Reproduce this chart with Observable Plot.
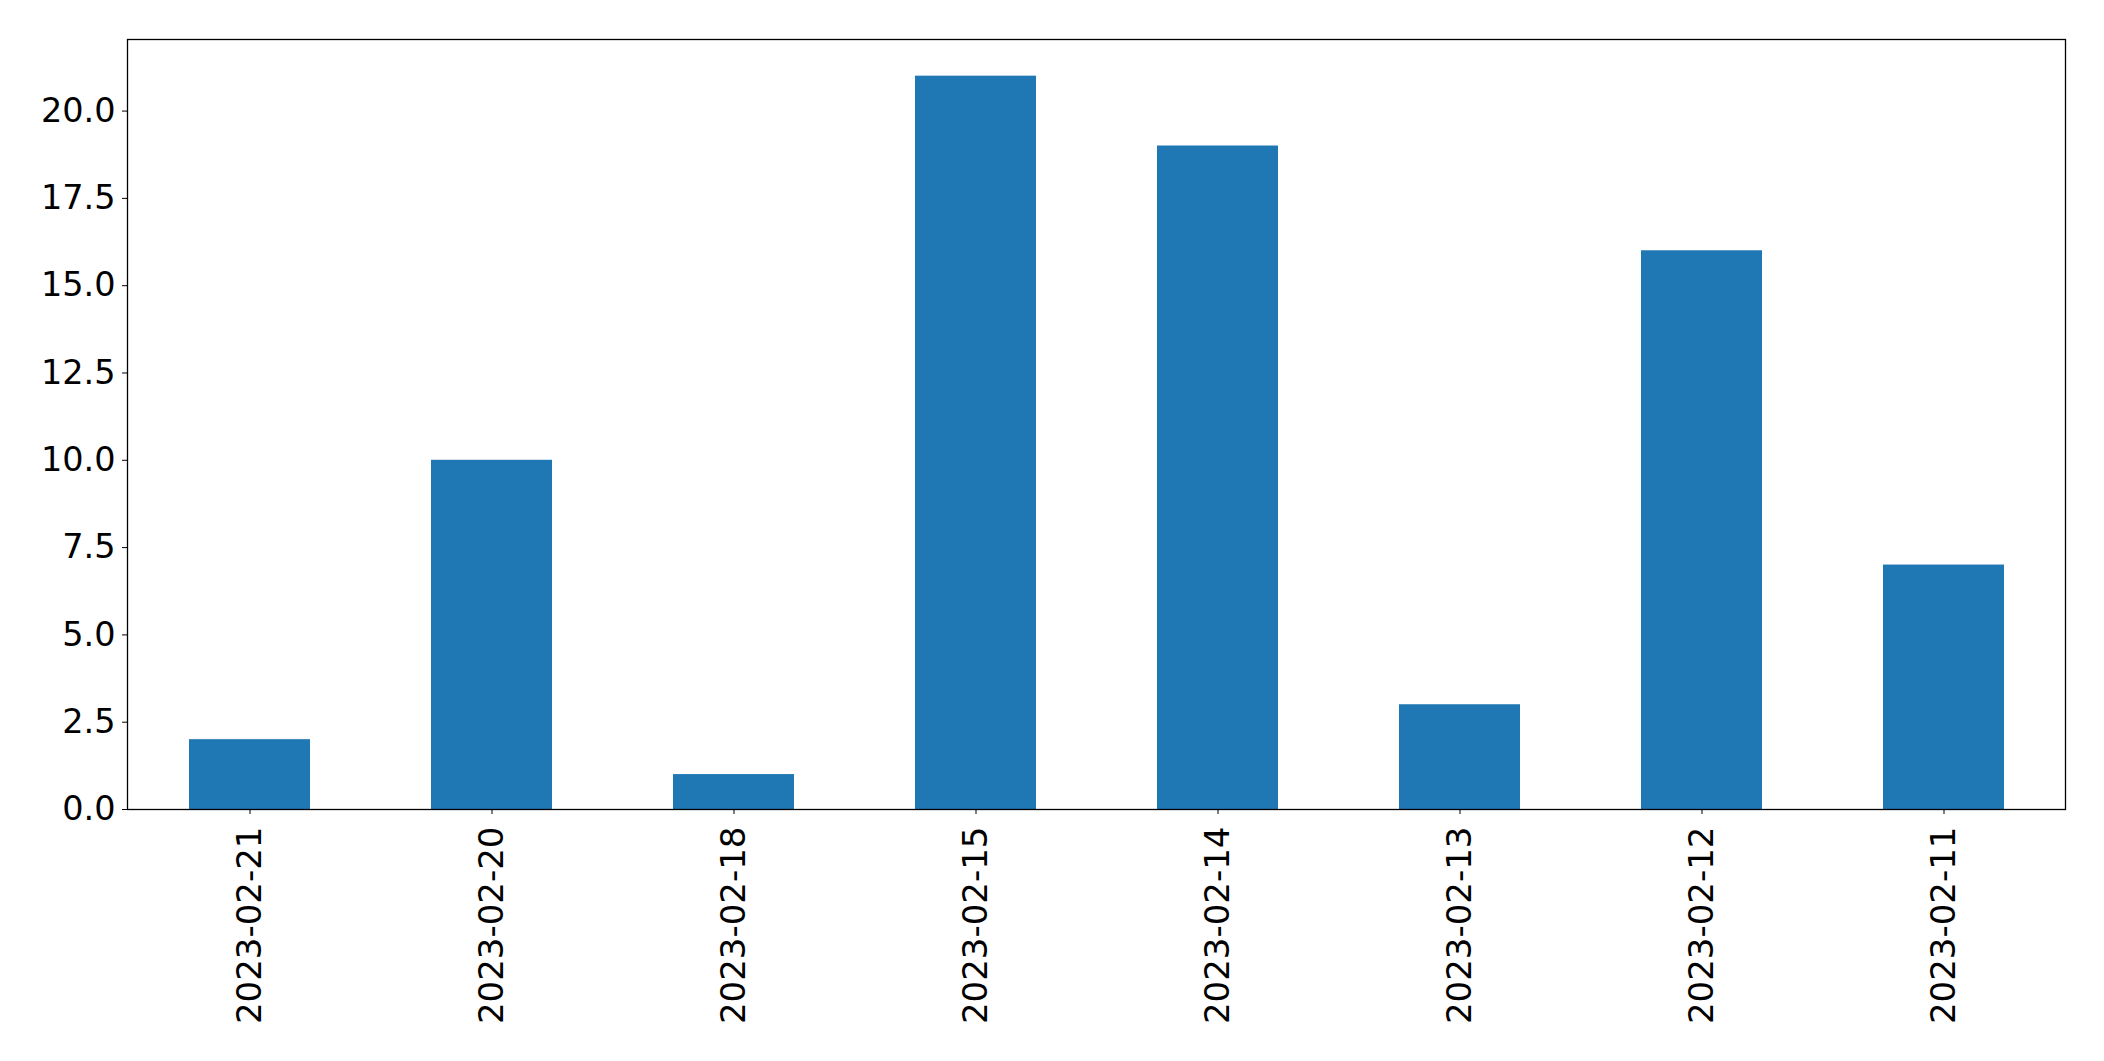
<!DOCTYPE html>
<html>
<head>
<meta charset="utf-8">
<script src="https://cdn.jsdelivr.net/npm/d3@7"></script>
<script src="https://cdn.jsdelivr.net/npm/@observablehq/plot@0.6"></script>
<style>
  html, body { margin: 0; padding: 0; background: #fff; }
  #chart svg { display: block; }
</style>
</head>
<body>
<div id="chart"></div>
<script>
const dates = ["2023-02-21", "2023-02-20", "2023-02-18", "2023-02-15", "2023-02-14", "2023-02-13", "2023-02-12", "2023-02-11"];
const counts = [2, 10, 1, 21, 19, 3, 16, 7];
const yTicks = [0, 2.5, 5, 7.5, 10, 12.5, 15, 17.5, 20];

const data = dates.map((d, i) => ({date: d, count: counts[i]}));

const chart = Plot.plot({
  width: 2104,
  height: 1061,
  marginLeft: 127,
  marginRight: 39,
  marginTop: 39,
  marginBottom: 252,
  style: {fontFamily: "'DejaVu Sans', sans-serif", fontSize: "33px", color: "black", background: "white"},
  x: {domain: dates, paddingInner: 0.5, paddingOuter: 0.25, align: 0.5, label: null},
  y: {domain: [0, 22.05], label: null},
  marks: [
    Plot.barY(data, {x: "date", y: "count", fill: "#1f77b4"}),
    Plot.axisY({ticks: yTicks, tickFormat: d3.format(".1f"), tickSize: 5, tickPadding: 7, fontSize: 33.5, label: null, stroke: "black"}),
    Plot.axisX({tickRotate: -90, tickSize: 5, tickPadding: 12, fontSize: 34, label: null, stroke: "black"}),
    Plot.frame({stroke: "black", strokeWidth: 1.3})
  ]
});
document.getElementById("chart").appendChild(chart);
</script>
</body>
</html>
